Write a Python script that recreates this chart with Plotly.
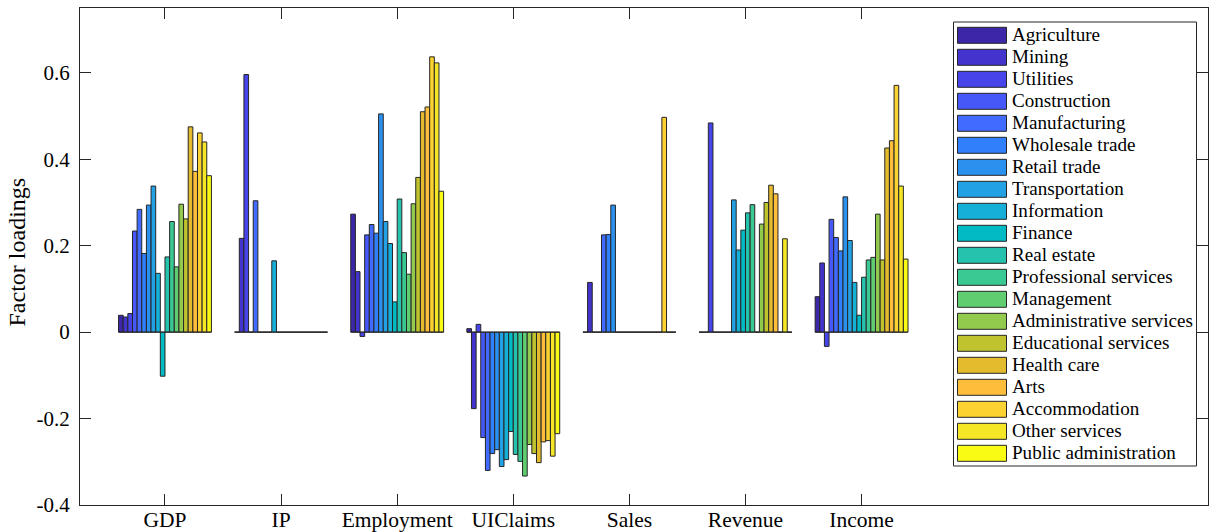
import plotly.graph_objects as go

# ---------------- data ----------------
groups = ["GDP", "IP", "Employment", "UIClaims", "Sales", "Revenue", "Income"]
industries = ["Agriculture", "Mining", "Utilities", "Construction", "Manufacturing",
              "Wholesale trade", "Retail trade", "Transportation", "Information", "Finance",
              "Real estate", "Professional services", "Management", "Administrative services",
              "Educational services", "Health care", "Arts", "Accommodation",
              "Other services", "Public administration"]

gdp = [0.039, 0.035, 0.043, 0.234, 0.284, 0.182, 0.294, 0.338, 0.136, -0.102,
       0.174, 0.256, 0.151, 0.296, 0.262, 0.475, 0.372, 0.461, 0.440, 0.362]
ip = [0, 0.217, 0.596, 0, 0.304, 0, 0, 0, 0.165, 0,
      0, 0, 0, 0, 0, 0, 0, 0, 0, 0]
employment = [0.273, 0.140, -0.010, 0.225, 0.249, 0.229, 0.505, 0.256, 0.205, 0.070,
              0.308, 0.184, 0.134, 0.297, 0.358, 0.510, 0.521, 0.637, 0.623, 0.326]
uiclaims = [0.008, -0.177, 0.018, -0.244, -0.320, -0.281, -0.272, -0.311, -0.295, -0.230,
            -0.283, -0.299, -0.333, -0.260, -0.281, -0.302, -0.254, -0.251, -0.287, -0.235]
sales = [0, 0.115, 0, 0, 0.225, 0.226, 0.294, 0, 0, 0,
         0, 0, 0, 0, 0, 0, 0, 0.497, 0, 0]
revenue = [0, 0, 0.484, 0, 0, 0, 0, 0.306, 0.190, 0.236,
           0.276, 0.295, 0, 0.250, 0.300, 0.340, 0.320, 0, 0.216, 0]
income = [0.082, 0.160, -0.033, 0.261, 0.219, 0.188, 0.313, 0.212, 0.115, 0.039,
          0.127, 0.167, 0.173, 0.273, 0.167, 0.426, 0.443, 0.571, 0.338, 0.169]

ytick_vals = [-0.4, -0.2, 0, 0.2, 0.4, 0.6]
ytick_text = ["-0.4", "-0.2", "0", "0.2", "0.4", "0.6"]

# parula(20)
colors = ["#3E26A8", "#4434CE", "#4745E9", "#4758F8", "#416BFE", "#307FFB", "#2B91EF",
          "#22A1E4", "#15AFD8", "#02BAC4", "#25C2AD", "#3BC993", "#61CD71", "#91CA4C",
          "#BEC32E", "#E4BB2C", "#FEBE3C", "#FBD22F", "#F5E725", "#F9FB15"]

series = [gdp, ip, employment, uiclaims, sales, revenue, income]

# ---------------- layout geometry ----------------
W, H = 1210, 532
PL, PR, PT, PB = 80, 1208, 8, 505
FONT = "Liberation Serif"
AX = "#262626"


def px2x(px):
    return (px - PL) / (PR - PL)


def py2y(py):
    return (PB - py) / (PB - PT)


fig = go.Figure()
xpos = list(range(1, len(groups) + 1))
for i, name in enumerate(industries):
    fig.add_trace(go.Bar(
        x=xpos, y=[s[i] for s in series], name=name,
        marker=dict(color=colors[i], line=dict(color=AX, width=1)),
        showlegend=False,
    ))

shapes = []
# zero-height bars are drawn by MATLAB as a baseline segment across each group
for g in xpos:
    shapes.append(dict(type="line", xref="x", yref="y", x0=g - 0.4, x1=g + 0.4, y0=0, y1=0,
                       line=dict(color=AX, width=1), layer="above"))

# manual legend (MATLAB style wide swatches)
annotations = []
shapes.append(dict(type="rect", xref="paper", yref="paper",
                   x0=px2x(953.5), x1=px2x(1196.5), y0=py2y(466), y1=py2y(22),
                   line=dict(color=AX, width=1), fillcolor="white", layer="above"))
for i, name in enumerate(industries):
    cy = 35.3 + 22 * i
    shapes.append(dict(type="rect", xref="paper", yref="paper",
                       x0=px2x(957.5), x1=px2x(1006.5), y0=py2y(cy + 8), y1=py2y(cy - 8),
                       line=dict(color=AX, width=1), fillcolor=colors[i], layer="above"))
    annotations.append(dict(xref="paper", yref="paper", x=px2x(1010), y=py2y(cy - 1),
                            xanchor="left", yanchor="middle", text=name, showarrow=False,
                            font=dict(family=FONT, size=19.1, color="black")))

annotations.append(dict(xref="paper", yref="paper", x=px2x(17), y=py2y(252.5),
                        xanchor="center", yanchor="middle", text="Factor loadings",
                        textangle=-90, showarrow=False,
                        font=dict(family=FONT, size=24, color="black")))

fig.update_layout(
    width=W, height=H,
    margin=dict(l=PL, r=W - PR, t=PT, b=H - PB, pad=0, autoexpand=False),
    barmode="group", bargap=0.2, bargroupgap=0,
    plot_bgcolor="white", paper_bgcolor="white",
    shapes=shapes, annotations=annotations,
    showlegend=False,
    font=dict(family=FONT, color="black"),
)
fig.update_xaxes(
    range=[0.268, 9.984], tickvals=xpos, ticktext=groups, automargin=False,
    showgrid=False, zeroline=False, showline=True, linecolor=AX, linewidth=1,
    mirror="ticks", ticks="inside", ticklen=11, tickcolor=AX, tickwidth=1,
    tickfont=dict(family=FONT, size=21.5, color="black"),
    ticklabelstandoff=-5,
)
fig.update_yaxes(
    range=[-0.4, 0.75], tickvals=ytick_vals, ticktext=ytick_text, automargin=False,
    showgrid=False, zeroline=False, showline=True, linecolor=AX, linewidth=1,
    mirror="ticks", ticks="inside", ticklen=11, tickcolor=AX, tickwidth=1,
    tickfont=dict(family=FONT, size=21, color="black"),
    ticklabelstandoff=5,
)

fig.write_html("out.html")
